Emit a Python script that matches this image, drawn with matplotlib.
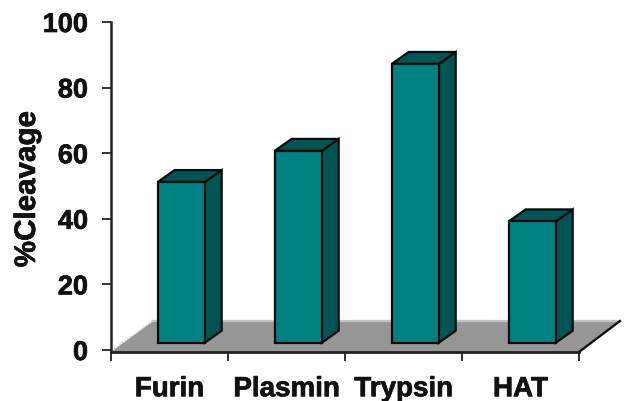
import matplotlib
matplotlib.use("Agg")
import matplotlib.pyplot as plt
from matplotlib.patches import Polygon
import matplotlib.patheffects as pe

categories = ["Furin", "Plasmin", "Trypsin", "HAT"]
cleavage = [51.2, 60.7, 87.2, 39.2]
y_ticks = [0, 20, 40, 60, 80, 100]
x_edges = [0, 1, 2, 3, 4]

W, H = 628, 402
plt.rcParams["font.family"] = ["Liberation Sans", "DejaVu Sans"]
plt.rcParams["font.weight"] = "bold"
fig = plt.figure(figsize=(W / 100, H / 100), dpi=100)
L, R, T, B = 111, 579, 23, 351
ax = fig.add_axes([L / W, 1 - B / H, (R - L) / W, (B - T) / H])
ax.set_xlim(0, 4)
ax.set_ylim(0, 100)

px = 4 / (R - L)
py = 100 / (B - T)
dx, dy = 17 * px, 12 * py
width = 47 * px
base = 2.2
EDGE = "#0a0a0a"
FRONT, DARK = "#008080", "#005454"
AX = "#222222"
heavy = [pe.withStroke(linewidth=0.5, foreground="#111111")]

# floor
fx, fy = 41 * px, 29 * py
ax.add_patch(Polygon([(0, -0.6), (4, -0.6), (4 + fx, fy), (42 * px, fy)],
                     closed=True, fc="#969696", ec="none", clip_on=False, zorder=1))
ax.plot([42 * px, 4 + fx], [fy, fy], color="#c4c4c4", lw=1.6, clip_on=False, zorder=1.2)
ax.plot([0, 42 * px], [-0.2, fy], color="#d0d0d0", lw=1.2, ls=(0, (1, 1)), clip_on=False, zorder=1.2)
ax.plot([4, 4 + fx], [-0.6, fy], color="#111111", lw=1.7, clip_on=False, zorder=1.3)

# bars
for i, v in enumerate(cleavage):
    x0 = i + 0.6 - width / 2
    x1 = x0 + width
    ax.bar(i + 0.6, v - base, width=width, bottom=base, color=FRONT, edgecolor=EDGE,
           linewidth=1.6, zorder=3)
    ax.add_patch(Polygon([(x1, base), (x1 + dx, base + dy), (x1 + dx, v + dy), (x1, v)],
                         closed=True, fc=DARK, ec=EDGE, lw=1.6, zorder=2.5))
    ax.add_patch(Polygon([(x0, v), (x0 + dx, v + dy), (x1 + dx, v + dy), (x1, v)],
                         closed=True, fc=DARK, ec=EDGE, lw=1.6, zorder=2.5))

# axes
for s in ("top", "right"):
    ax.spines[s].set_visible(False)
ax.spines["left"].set_linewidth(1.8)
ax.spines["left"].set_color(AX)
ax.spines["bottom"].set_linewidth(2.0)
ax.spines["bottom"].set_color(AX)
ax.spines["bottom"].set_position(("outward", 1.6))
ax.spines["bottom"].set_zorder(4)
ax.set_yticks(y_ticks)
ax.set_xticks(x_edges)
ax.set_xticklabels([])
ax.tick_params(axis="y", length=6.5, width=1.3, color=AX, pad=10, labelsize=19.5, labelcolor="#111111")
ax.tick_params(axis="x", length=6.5, width=1.3, color=AX, pad=0)
for lab in ax.get_yticklabels():
    lab.set_path_effects(heavy)
for i, c in enumerate(categories):
    ax.text(i + 0.5, -8.0, c, ha="center", va="top", fontsize=20, fontweight="bold",
            color="#111111", clip_on=False, path_effects=heavy)
fig.text(27 / W, 1 - 190 / H, "%Cleavage", rotation=90, ha="center", va="center",
         fontsize=21.3, fontweight="bold", color="#111111", path_effects=heavy)
fig.savefig("out.png", dpi=100, facecolor="white")
